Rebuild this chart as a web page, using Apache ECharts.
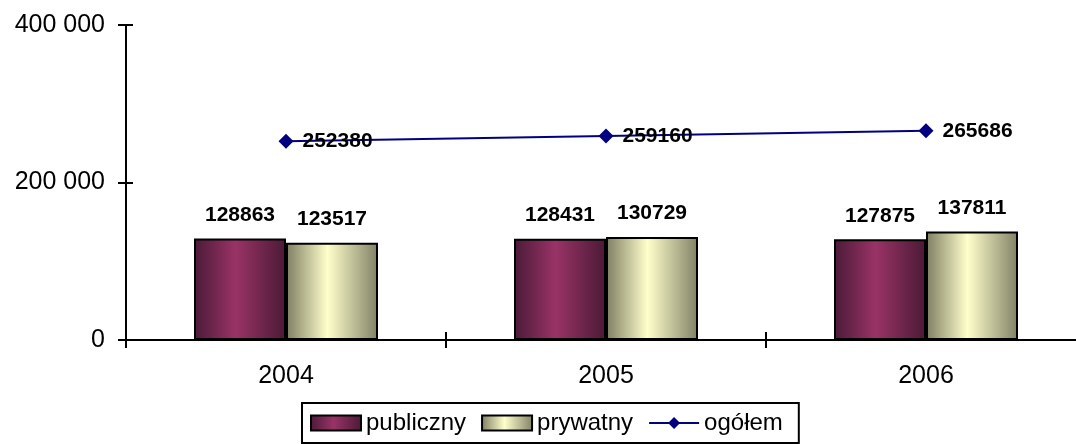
<!DOCTYPE html>
<html>
<head>
<meta charset="utf-8">
<script src="https://cdn.jsdelivr.net/npm/echarts@6/dist/echarts.min.js"></script>
<style>
  html, body { margin: 0; padding: 0; background: #fff; }
  #chart { width: 1076px; height: 444px; }
</style>
</head>
<body>
<div id="chart"></div>
<script>
const years = ['2004', '2005', '2006']
const publiczny = [128863, 128431, 127875]
const prywatny = [123517, 130729, 137811]
const ogolem = [252380, 259160, 265686]

const font = '"Liberation Sans", Arial, sans-serif'

const spaced = (v) => String(v).replace(/\B(?=(\d{3})+(?!\d))/g, ' ')

const grad = (edge, mid, edge2) => ({
  type: 'linear', x: 0, y: 0, x2: 1, y2: 0,
  colorStops: [
    { offset: 0, color: edge },
    { offset: 0.45, color: mid },
    { offset: 1, color: edge2 }
  ]
})

const boldLabel = {
  show: true,
  color: '#000',
  fontFamily: font,
  fontWeight: 'bold',
  fontSize: 21
}

const tickStyle = { color: '#000', width: 2 }
const gridBox = { left: 126, top: 25, width: 960, height: 315, containLabel: false, outerBoundsMode: 'none' }

const chart = echarts.init(document.getElementById('chart'))

chart.setOption({
  animation: false,
  backgroundColor: '#fff',
  // second grid only carries the inner half of the crossing ticks
  grid: [gridBox, Object.assign({}, gridBox)],
  legend: {
    left: 302,
    top: 403,
    padding: [8, 16, 8, 8],
    itemGap: 15,
    itemWidth: 50,
    itemHeight: 15,
    borderColor: '#000',
    borderWidth: 2,
    borderRadius: 0,
    textStyle: { color: '#000', fontFamily: font, fontSize: 24 },
    data: [
      { name: 'publiczny', icon: 'rect' },
      { name: 'prywatny', icon: 'rect' },
      { name: 'ogółem', lineStyle: { width: 2, color: '#000080' } }
    ]
  },
  xAxis: [
    {
      gridIndex: 0,
      type: 'category',
      data: years,
      position: 'bottom',
      axisLine: { lineStyle: { color: '#000', width: 2 } },
      axisTick: { show: true, length: 8, lineStyle: tickStyle },
      axisLabel: { color: '#000', fontFamily: font, fontSize: 25, margin: 24 },
      splitLine: { show: false }
    },
    {
      gridIndex: 1,
      type: 'category',
      data: years,
      position: 'bottom',
      axisLine: { show: false },
      axisTick: { show: true, inside: true, length: 8, lineStyle: tickStyle },
      axisLabel: { show: false },
      splitLine: { show: false }
    }
  ],
  yAxis: [
    {
      gridIndex: 0,
      type: 'value',
      min: 0,
      max: 400000,
      interval: 200000,
      position: 'left',
      axisLine: { show: true, lineStyle: { color: '#000', width: 2 } },
      axisTick: { show: true, length: 8, lineStyle: tickStyle },
      axisLabel: { color: '#000', fontFamily: font, fontSize: 25, margin: 21, formatter: spaced },
      splitLine: { show: false }
    },
    {
      gridIndex: 1,
      type: 'value',
      min: 0,
      max: 400000,
      interval: 200000,
      position: 'left',
      axisLine: { show: false },
      axisTick: { show: true, inside: true, length: 7, lineStyle: tickStyle },
      axisLabel: { show: false },
      splitLine: { show: false }
    }
  ],
  series: [
    {
      name: 'publiczny',
      type: 'bar',
      data: publiczny,
      barWidth: 92,
      barGap: '0%',
      itemStyle: {
        color: grad('#4a1a38', '#993366', '#4a1a35'),
        borderColor: '#000',
        borderWidth: 2
      },
      label: Object.assign({ position: 'top', distance: 13 }, boldLabel)
    },
    {
      name: 'prywatny',
      type: 'bar',
      data: prywatny,
      barWidth: 92,
      barGap: '0%',
      itemStyle: {
        color: grad('#7d7d62', '#ffffcc', '#818166'),
        borderColor: '#000',
        borderWidth: 2
      },
      label: Object.assign({ position: 'top', distance: 13 }, boldLabel)
    },
    {
      name: 'ogółem',
      type: 'line',
      data: ogolem,
      z: 5,
      symbol: 'diamond',
      symbolSize: 15,
      color: '#000080',
      lineStyle: { color: '#000080', width: 2 },
      itemStyle: { color: '#000080' },
      label: Object.assign({ position: 'right', distance: 9 }, boldLabel)
    }
  ]
})
</script>
</body>
</html>
